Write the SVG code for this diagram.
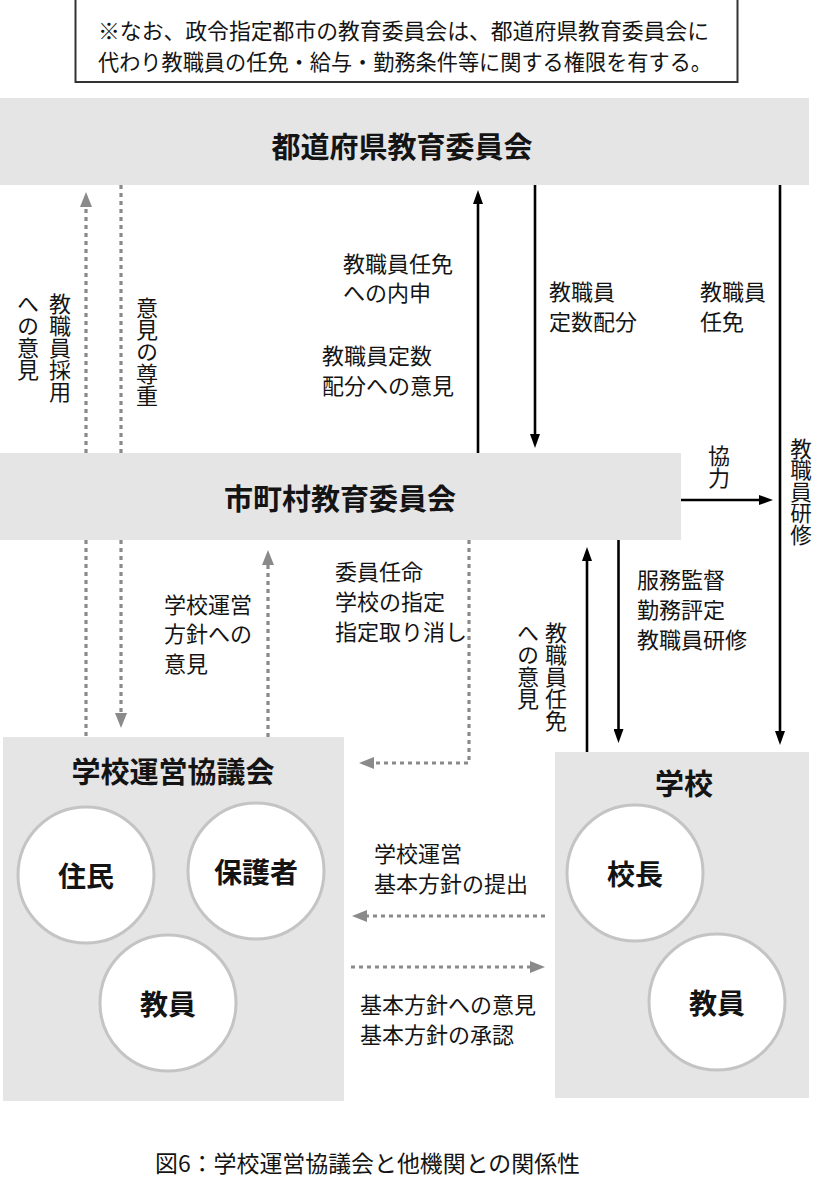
<svg xmlns="http://www.w3.org/2000/svg" width="815" height="1186" viewBox="0 0 815 1186">
<style>
text { font-family: "Noto Sans CJK JP", "Noto Sans", sans-serif; fill: #141414; }
.t { font-size: 29px; font-weight: 700; text-anchor: middle; dominant-baseline: central; }
.c { font-size: 28px; font-weight: 700; text-anchor: middle; dominant-baseline: central; }
.l { font-size: 22px; dominant-baseline: central; }
.v { font-size: 22px; writing-mode: vertical-rl; }
.box { fill: #e5e5e5; }
.circ { fill: #ffffff; stroke: #c4c4c4; stroke-width: 3; }
.solid { stroke: #000; stroke-width: 2.6; fill: none; }
.dash { stroke: #8a8a8a; stroke-width: 3.2; stroke-dasharray: 4 4; fill: none; }
</style>
<defs>
<marker id="ah" markerUnits="userSpaceOnUse" markerWidth="14" markerHeight="10" refX="4" refY="5" orient="auto">
<path d="M0,0 L14,5 L0,10 z" fill="#000"/>
</marker>
<marker id="ahg" markerUnits="userSpaceOnUse" markerWidth="15" markerHeight="12" refX="4" refY="6" orient="auto">
<path d="M0,0 L15,6 L0,12 z" fill="#8a8a8a"/>
</marker>
</defs>
<rect width="815" height="1186" fill="#ffffff"/>

<g id="note">
<rect x="75.5" y="-1" width="662" height="83" fill="#fff" stroke="#333" stroke-width="2"/>
<text class="l" x="98" y="29" textLength="611" lengthAdjust="spacingAndGlyphs">※なお、政令指定都市の教育委員会は、都道府県教育委員会に</text>
<text class="l" x="98" y="60" textLength="614" lengthAdjust="spacingAndGlyphs">代わり教職員の任免・給与・勤務条件等に関する権限を有する。</text>
</g>

<g id="pref-board">
<rect class="box" x="0" y="98" width="809" height="87"/>
<text class="t" x="402" y="145">都道府県教育委員会</text>
</g>

<g id="muni-board">
<rect class="box" x="0" y="453" width="681" height="87"/>
<text class="t" x="340" y="497">市町村教育委員会</text>
</g>

<g id="council">
<rect class="box" x="3" y="737" width="341" height="364"/>
<text class="t" x="173" y="770">学校運営協議会</text>
<g id="council-residents">
<circle class="circ" cx="86" cy="875" r="68"/>
<text class="c" x="86" y="875">住民</text>
</g>
<g id="council-guardians">
<circle class="circ" cx="256" cy="871" r="68"/>
<text class="c" x="256" y="871">保護者</text>
</g>
<g id="council-teachers">
<circle class="circ" cx="168" cy="1003" r="68"/>
<text class="c" x="168" y="1003">教員</text>
</g>
</g>

<g id="school">
<rect class="box" x="555" y="752" width="254" height="346"/>
<text class="t" x="684" y="782">学校</text>
<g id="school-principal">
<circle class="circ" cx="635" cy="873" r="68"/>
<text class="c" x="635" y="873">校長</text>
</g>
<g id="school-teachers">
<circle class="circ" cx="717" cy="1002" r="68"/>
<text class="c" x="717" y="1002">教員</text>
</g>
</g>

<g id="connectors">
<line class="dash" x1="86" y1="453" x2="86" y2="203" marker-end="url(#ahg)"/>
<line class="dash" x1="121" y1="185" x2="121" y2="453"/>
<line class="dash" x1="86" y1="540" x2="86" y2="737"/>
<line class="dash" x1="121" y1="540" x2="121" y2="717" marker-end="url(#ahg)"/>
<line class="dash" x1="268" y1="737" x2="268" y2="561" marker-end="url(#ahg)"/>
<polyline class="dash" points="469,540 469,763 370,763" marker-end="url(#ahg)"/>
<line class="dash" x1="545" y1="916" x2="363" y2="916" marker-end="url(#ahg)"/>
<line class="dash" x1="351" y1="967" x2="534" y2="967" marker-end="url(#ahg)"/>

<line class="solid" x1="478" y1="453" x2="478" y2="200" marker-end="url(#ah)"/>
<line class="solid" x1="535" y1="185" x2="535" y2="438" marker-end="url(#ah)"/>
<line class="solid" x1="780" y1="185" x2="780" y2="735" marker-end="url(#ah)"/>
<line class="solid" x1="681" y1="500" x2="763" y2="500" marker-end="url(#ah)"/>
<line class="solid" x1="587" y1="752" x2="587" y2="557" marker-end="url(#ah)"/>
<line class="solid" x1="618.5" y1="540" x2="618.5" y2="733" marker-end="url(#ah)"/>
</g>

<g id="connector-labels">
<text class="v" x="60" y="293">教職員採用</text>
<text class="v" x="28" y="293">への意見</text>
<text class="v" x="147" y="297">意見の尊重</text>

<text class="l" x="343" y="262">教職員任免</text>
<text class="l" x="343" y="291">への内申</text>
<text class="l" x="322" y="354">教職員定数</text>
<text class="l" x="322" y="384">配分への意見</text>
<text class="l" x="549" y="290">教職員</text>
<text class="l" x="549" y="320">定数配分</text>
<text class="l" x="700" y="290">教職員</text>
<text class="l" x="700" y="320">任免</text>

<text class="v" x="719" y="445">協力</text>
<text class="v" x="801" y="438" style="font-size:21.5px">教職員研修</text>

<text class="l" x="164" y="603">学校運営</text>
<text class="l" x="164" y="632">方針への</text>
<text class="l" x="164" y="662">意見</text>
<text class="l" x="335" y="570">委員任命</text>
<text class="l" x="335" y="600">学校の指定</text>
<text class="l" x="335" y="630">指定取り消し</text>
<text class="l" x="637" y="578">服務監督</text>
<text class="l" x="637" y="608">勤務評定</text>
<text class="l" x="637" y="638">教職員研修</text>
<text class="v" x="556" y="622">教職員任免</text>
<text class="v" x="528" y="622">への意見</text>

<text class="l" x="374" y="852">学校運営</text>
<text class="l" x="374" y="882">基本方針の提出</text>
<text class="l" x="360" y="1003">基本方針への意見</text>
<text class="l" x="360" y="1033">基本方針の承認</text>
</g>

<g id="caption">
<text class="l" x="155" y="1162" style="font-size:23px" textLength="425" lengthAdjust="spacingAndGlyphs">図6：学校運営協議会と他機関との関係性</text>
</g>
</svg>
